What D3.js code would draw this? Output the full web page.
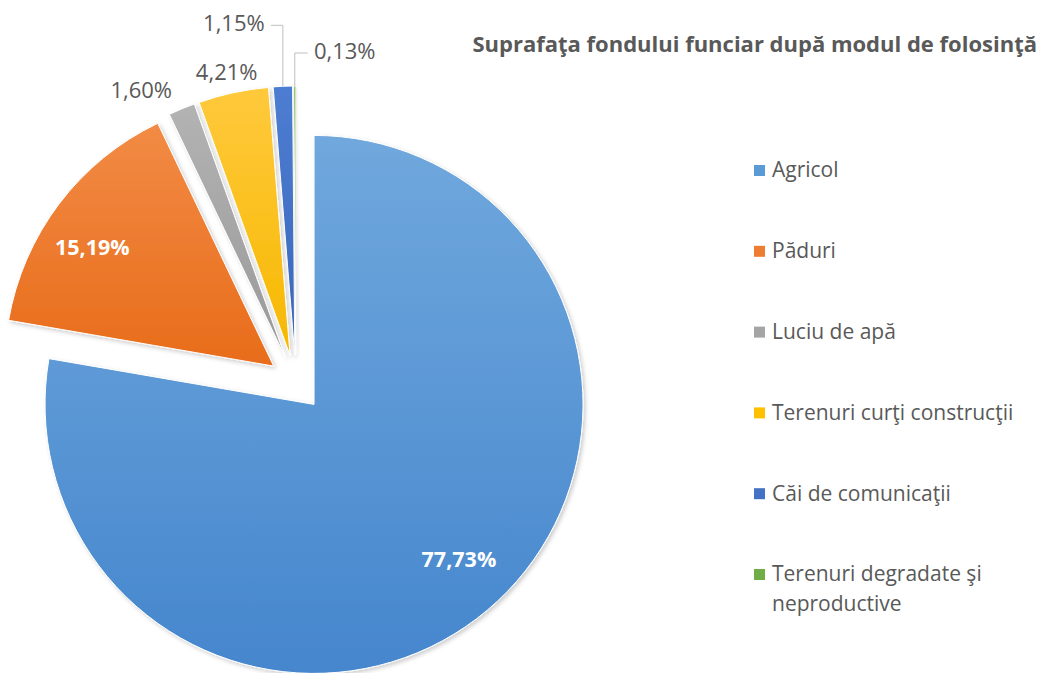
<!DOCTYPE html>
<html>
<head>
<meta charset="utf-8">
<script src="https://cdn.jsdelivr.net/npm/d3@7"></script>
<style>
  html, body { margin: 0; padding: 0; background: #ffffff; }
  svg { display: block; }
  text { font-family: "Open Sans", "DejaVu Sans", sans-serif; }
</style>
</head>
<body>
<svg id="chart" width="1041" height="673"></svg>
<script>
// ---- data ----
const title = "Suprafaţa fondului funciar după modul de folosinţă";
const categories = ["Agricol", "Păduri", "Luciu de apă", "Terenuri curţi construcţii", "Căi de comunicaţii", "Terenuri degradate şi neproductive"];
const values = [77.73, 15.19, 1.60, 4.21, 1.15, 0.13];
const legendLines = [["Agricol"], ["Păduri"], ["Luciu de apă"], ["Terenuri curţi construcţii"], ["Căi de comunicaţii"], ["Terenuri degradate şi", "neproductive"]];
const colorsTop = ["#70a8dd", "#f28b45", "#b3b3b3", "#ffc93c", "#4d7dd2", "#76b24c"];
const colorsBottom = ["#4586cd", "#e86c1a", "#999999", "#f6b800", "#3a66ba", "#65a03d"];
const colors = ["#5b9bd5", "#ed7d31", "#a5a5a5", "#ffc000", "#4472c4", "#70ad47"];

const fmt = v => v.toFixed(2).replace(".", ",") + "%";

const svg = d3.select("#chart");
const defs = svg.append("defs");

categories.forEach((c, i) => {
  const g = defs.append("linearGradient").attr("id", "grad" + i)
    .attr("x1", 0).attr("y1", 0).attr("x2", 0).attr("y2", 1);
  g.append("stop").attr("offset", "0%").attr("stop-color", colorsTop[i]);
  g.append("stop").attr("offset", "100%").attr("stop-color", colorsBottom[i]);
});
const filt = defs.append("filter").attr("id", "shadow")
  .attr("x", "-10%").attr("y", "-10%").attr("width", "130%").attr("height", "130%");
filt.append("feDropShadow").attr("dx", 2).attr("dy", 2).attr("stdDeviation", 2)
  .attr("flood-color", "#000").attr("flood-opacity", 0.2);

// ---- pie geometry ----
const cx = 296, cy = 383, R = 269, explode = 28;
const pie = d3.pie().sort(null).value(d => d).startAngle(0).endAngle(2 * Math.PI);
const arcs = pie(values);
const arc = d3.arc().innerRadius(0).outerRadius(R);
const dir = a => [Math.sin(a), -Math.cos(a)];
const mid = d => (d.startAngle + d.endAngle) / 2;

const pieG = svg.append("g").attr("transform", `translate(${cx},${cy})`);

const sliceG = pieG.selectAll("g.slice").data(arcs).enter().append("g")
  .attr("class", "slice")
  .attr("transform", d => {
    const [x, y] = dir(mid(d));
    return `translate(${x * explode},${y * explode})`;
  });

sliceG.append("path")
  .attr("d", arc)
  .attr("fill", (d, i) => `url(#grad${i})`)
  .attr("stroke", "#ffffff")
  .attr("stroke-width", 1)
  .attr("filter", "url(#shadow)");

// inside labels (large slices)
const insideAdjust = { 0: [8, -8], 1: [-12, 10] };
sliceG.filter((d, i) => i < 2).append("text")
  .attr("transform", (d, i) => {
    const [x, y] = dir(mid(d));
    const r = R * 0.79;
    const a = insideAdjust[i];
    return `translate(${x * r + a[0]},${y * r + a[1]})`;
  })
  .attr("text-anchor", "middle")
  .attr("dy", "0.35em")
  .attr("fill", "#ffffff")
  .attr("font-weight", "bold")
  .attr("font-size", 21.5)
  .text(d => fmt(d.value));

// outside labels (small slices)
const labelAdjust = { 2: [-32, 2], 3: [-2, 1], 4: [-48, -41], 5: [50, -13] };
const outer = arcs.map((d, i) => {
  const m = mid(d);
  const [x, y] = dir(m);
  const tip = [x * explode, y * explode];
  return { tip, edge: [tip[0] + x * R, tip[1] + y * R], lab: [tip[0] + x * (R + 22), tip[1] + y * (R + 22)] };
});

[2, 3, 4, 5].forEach(i => {
  const o = outer[i];
  const adj = labelAdjust[i];
  const lx = o.lab[0] + adj[0], ly = o.lab[1] + adj[1];
  if (i === 4 || i === 5) {
    const side = i === 4 ? 1 : -1;
    pieG.append("polyline")
      .attr("points", [[lx + side * 37, ly + 2], [o.edge[0], ly + 2], [o.edge[0], o.edge[1]]].map(p => p.join(",")).join(" "))
      .attr("fill", "none")
      .attr("stroke", "#bfbfbf")
      .attr("stroke-width", 1);
  }
  pieG.append("text")
    .attr("x", lx).attr("y", ly)
    .attr("text-anchor", "middle")
    .attr("dy", "0.35em")
    .attr("fill", "#595959")
    .attr("font-size", 22)
    .text(fmt(values[i]));
});

// ---- title ----
svg.append("text")
  .attr("x", 1037).attr("y", 52)
  .attr("text-anchor", "end")
  .attr("fill", "#595959")
  .attr("font-weight", "bold")
  .attr("font-size", 22)
  .text(title);

// ---- legend ----
const legY = d3.scalePoint().domain(categories).range([170, 574]);
const leg = svg.selectAll("g.leg").data(categories).enter().append("g")
  .attr("class", "leg")
  .attr("transform", d => `translate(754,${legY(d)})`);
leg.append("rect")
  .attr("x", 0).attr("y", -5).attr("width", 11).attr("height", 11)
  .attr("fill", (d, i) => colors[i]);
leg.append("text")
  .attr("x", 18).attr("y", 0)
  .attr("fill", "#595959")
  .attr("font-size", 21)
  .selectAll("tspan").data((d, i) => legendLines[i]).enter().append("tspan")
  .attr("x", 18)
  .attr("dy", (t, j) => j === 0 ? "0.35em" : "1.42em")
  .text(t => t);
</script>
</body>
</html>
